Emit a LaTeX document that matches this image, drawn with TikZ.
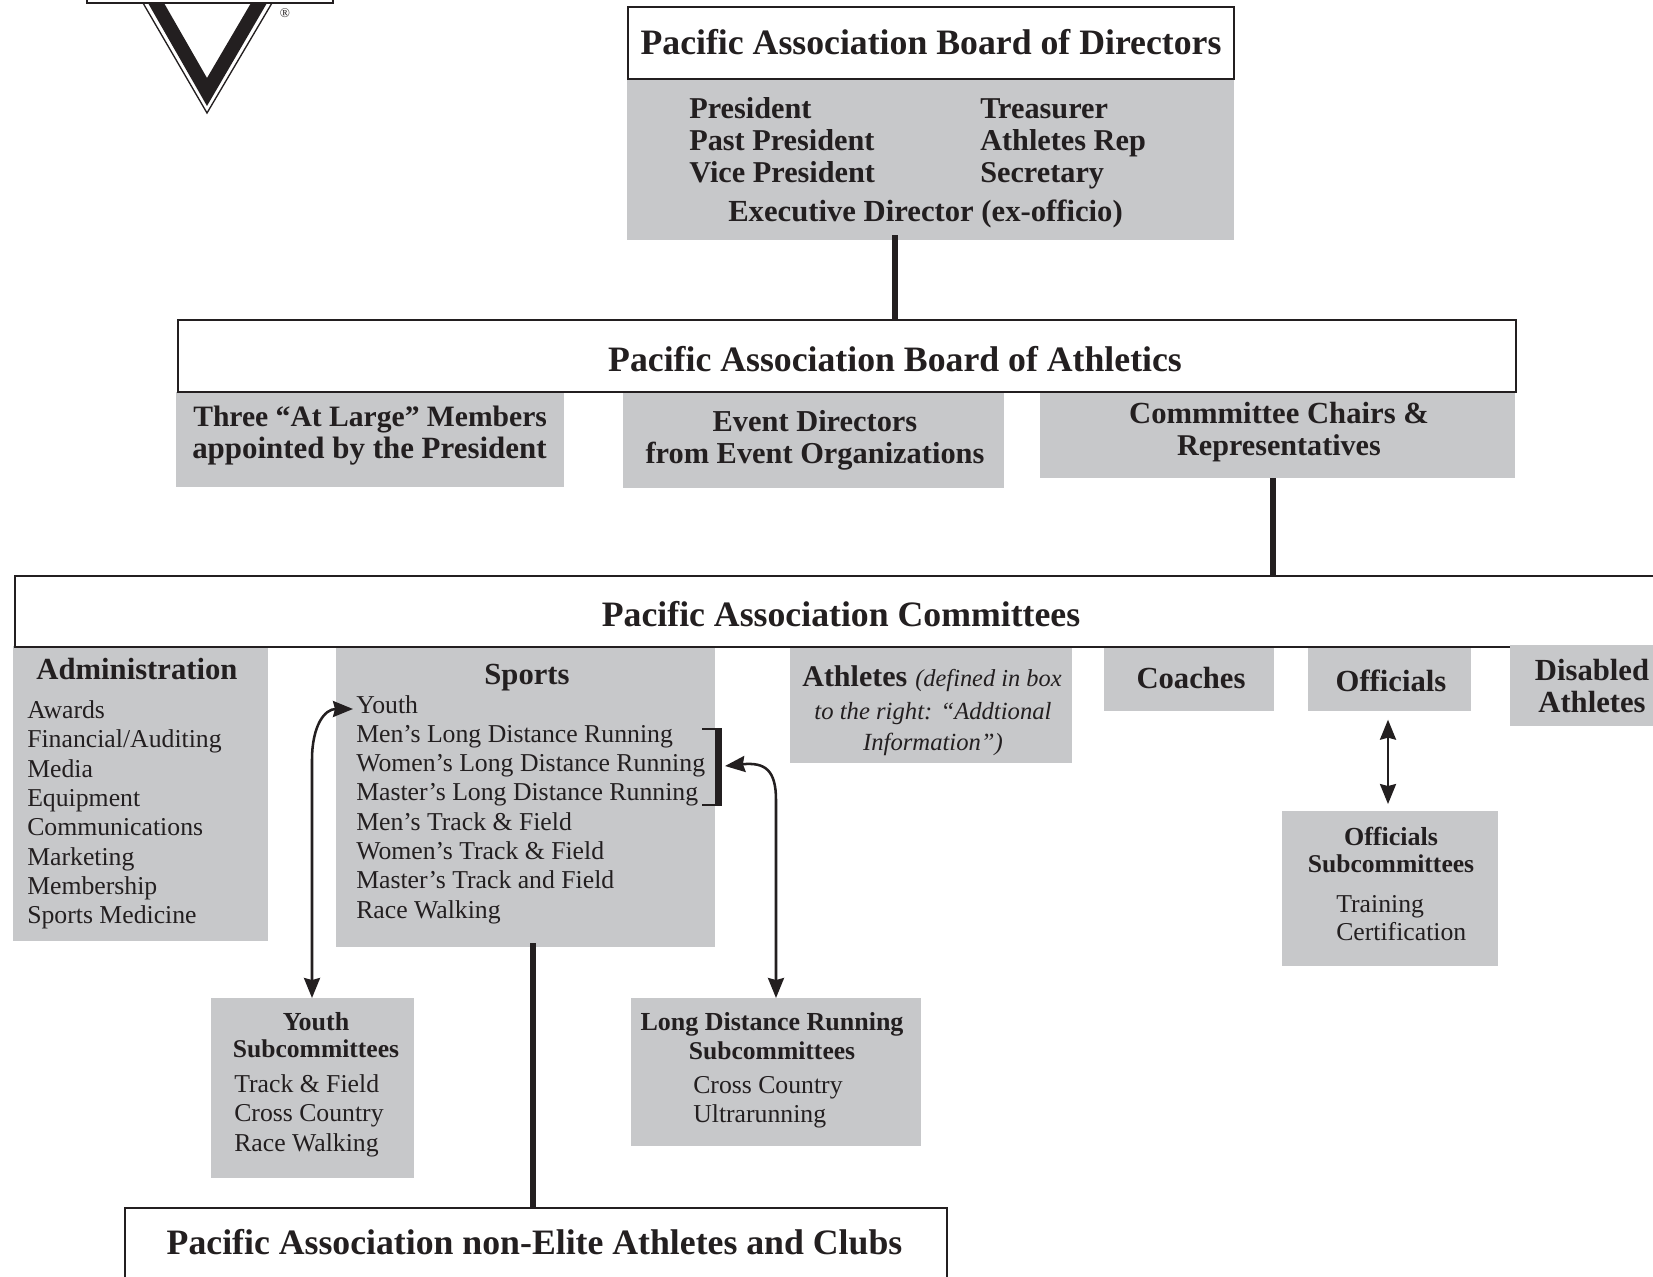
\documentclass[tikz,border=0pt]{standalone}
\usepackage{fontspec}
\setmainfont{Liberation Serif}
\usetikzlibrary{arrows.meta}
\definecolor{boxgray}{HTML}{C7C8CA}
\definecolor{ink}{HTML}{231F20}
\newcommand{\fs}[1]{\fontsize{#1}{#1}\selectfont}
\tikzset{
  grayb/.style={fill=boxgray,draw=none,inner sep=0pt,outer sep=0pt,anchor=north west},
  titleb/.style={fill=white,draw=ink,line width=2.1pt,inner sep=0pt,outer sep=0pt,anchor=north west},
  txt/.style={inner sep=0pt,text=ink},
  ttl/.style={txt,anchor=base,font=\bfseries\fs{26.8}},
  hd/.style={txt,anchor=base,font=\bfseries\fs{23}},
  hdl/.style={txt,anchor=base west,font=\bfseries\fs{22.7}},
  sub/.style={txt,anchor=base,font=\bfseries\fs{19.5}},
  subb/.style={txt,anchor=base,font=\bfseries\fs{19.2}},
  item/.style={txt,anchor=base west,font=\fs{19.3}},
  note/.style={txt,anchor=base,font=\itshape\fs{18.5}},
  trunk/.style={draw=ink,line width=3.8pt},
  dbl/.style={draw=ink,line width=1.9pt,{Stealth[length=15pt,width=12pt,inset=1.5pt]}-{Stealth[length=15pt,width=12pt,inset=1.5pt]}}
}
% name, x0, y0, x1, y1
\newcommand{\gbox}[5]{\node[grayb,minimum width=#4*0.75pt-#2*0.75pt,minimum height=#5*0.75pt-#3*0.75pt] (#1) at (#2,#3) {};}
\newcommand{\tbox}[5]{\node[titleb,minimum width=#4*0.75pt-#2*0.75pt,minimum height=#5*0.75pt-#3*0.75pt] (#1) at (#2,#3) {};}
% name, x, first baseline, step, items
\newcommand{\lst}[5]{\foreach \t [count=\i from 0] in {#5} {\node[item] (#1-\i) at (#2,{#3+\i*#4}) {\t};}}
\begin{document}
\begin{tikzpicture}[x=0.75pt,y=-0.75pt]
\useasboundingbox (0,0) rectangle (1653,1277);
\clip (0,0) rectangle (1653,1277);
% logo
\draw[ink,line width=1.5pt] (87,-6) -- (87,3) -- (333,3) -- (333,-6);
\draw[ink,line width=1pt] (143,3) -- (207,113) -- (272,3);
\fill[ink] (148,3) -- (164,3) -- (207,78) -- (251,3) -- (267,3) -- (207,106) -- cycle;
\node[txt,font=\fs{10}] (regmark) at (285,13) {®};
% board of directors
\gbox{dirg}{627}{80}{1234}{240}
\tbox{dirt}{628}{7}{1234}{79}
\node[ttl] (dirtitle) at (931,55) {Pacific Association Board of Directors};
\foreach \t/\n/\b in {President/a/119,Past President/b/151,Vice President/c/183}
  \node[hdl] (dir\n) at (689,\b) {\t};
\foreach \t/\n/\b in {Treasurer/a/119,Athletes Rep/b/151,Secretary/c/183}
  \node[hdl] (dirr\n) at (980,\b) {\t};
\node[hd] (direxec) at (925.5,221) {Executive Director (ex-officio)};
% board of athletics
\gbox{atha}{176}{392}{564}{487}
\gbox{athb}{623}{392}{1004}{488}
\gbox{athc}{1040}{392}{1515}{478}
\tbox{ath}{178}{320}{1516}{392}
\node[ttl] (athtitle) at (895,371) {Pacific Association Board of Athletics};
\node[hdl,font=\bfseries\fs{22.2}] (athal) at (193,426) {Three “At Large” Members};
\node[hdl,font=\bfseries\fs{23.2}] (athal2) at (192,458) {appointed by the President};
\node[hd,font=\bfseries\fs{22.8}] (athb1) at (815,431) {Event Directors};
\node[hd,font=\bfseries\fs{22.8}] (athb2) at (815,463) {from Event Organizations};
\node[hd] (athc1) at (1279,423) {Commmittee Chairs \&};
\node[hd,font=\bfseries\fs{22.6}] (athc2) at (1279,455) {Representatives};
% committees
\gbox{adm}{13}{646}{268}{941}
\gbox{spo}{336}{646}{715}{947}
\gbox{atl}{790}{646}{1072}{763}
\gbox{coa}{1104}{646}{1274}{711}
\gbox{off}{1308}{646}{1471}{711}
\tbox{com}{15}{576}{1680}{647}
\gbox{dis}{1510}{645}{1660}{726}
\node[ttl] (comtitle) at (841,626.5) {Pacific Association Committees};
\node[hd] (admh) at (137,679) {Administration};
\lst{admi}{27}{718.5}{29.3}{Awards,Financial/Auditing,Media,Equipment,Communications,Marketing,Membership,Sports Medicine}
\node[hd] (spoh) at (527,684) {Sports};
\lst{spoi}{356}{713}{29.3}{Youth,Men’s Long Distance Running,Women’s Long Distance Running,Master’s Long Distance Running,Men’s Track \& Field,Women’s Track \& Field,Master’s Track and Field,Race Walking}
\node[txt,anchor=base] (atl1) at (932,686) {{\bfseries\fs{22.5}Athletes}\hspace{6pt}{\itshape\fs{18.3}(defined in box}};
\node[note] (atl2) at (933,719) {to the right: “Addtional};
\node[note] (atl3) at (933,750) {Information”)};
\node[hd] (coah) at (1191,688) {Coaches};
\node[hd] (offh) at (1391,691) {Officials};
\node[hd] (dis1) at (1592,680) {Disabled};
\node[hd] (dis2) at (1592,712) {Athletes};
% subcommittees
\gbox{yth}{211}{998}{414}{1178}
\gbox{ldr}{631}{998}{921}{1146}
\gbox{ofs}{1282}{811}{1498}{966}
\node[sub] (yth1) at (316,1030) {Youth};
\node[subb] (yth2) at (316,1057) {Subcommittees};
\lst{ythi}{234}{1092}{29.5}{Track \& Field,Cross Country,Race Walking}
\node[sub] (ldr1) at (772,1030) {Long Distance Running};
\node[subb] (ldr2) at (772,1059) {Subcommittees};
\lst{ldri}{693}{1093}{29}{Cross Country,Ultrarunning}
\node[sub] (ofs1) at (1391,845) {Officials};
\node[subb] (ofs2) at (1391,872) {Subcommittees};
\lst{ofsi}{1336}{912}{28.5}{Training,Certification}
% non-elite
\tbox{nel}{125}{1208}{947}{1300}
\node[ttl] (neltitle) at (534.5,1254) {Pacific Association non-Elite Athletes and Clubs};
% trunks
\coordinate (c1) at (895,235);
\coordinate (c2) at (1273,478);
\coordinate (c3) at (533,943);
\draw[trunk] (c1) -- (c1 |- ath.north);
\draw[trunk] (c2) -- (c2 |- com.north);
\draw[trunk] (c3) -- (c3 |- nel.north);
% bracket
\coordinate (brt) at (702,729);
\coordinate (brb) at (702,805);
\draw[ink,line width=1.8pt] (brt) -- (722,729);
\draw[ink,line width=1.8pt] (brb) -- (722,805);
\draw[ink,line width=5.2pt] (718.5,728) -- (718.5,806);
% arrows
\coordinate (ya) at (353,709);
\coordinate (yb) at (312,760);
\coordinate (la) at (725,766);
\coordinate (lb) at (776,800);
\coordinate (oa) at (1388,720);
\draw[dbl] (ya) .. controls (325,709) and (312,725) .. (yb) -- (yb |- yth.north);
\draw[dbl] (la) .. controls (765,762) and (776,770) .. (lb) -- (lb |- ldr.north);
\draw[dbl,shorten <=6.5pt,shorten >=5.2pt] (oa |- off.south) -- (oa |- ofs.north);
\end{tikzpicture}
\end{document}
